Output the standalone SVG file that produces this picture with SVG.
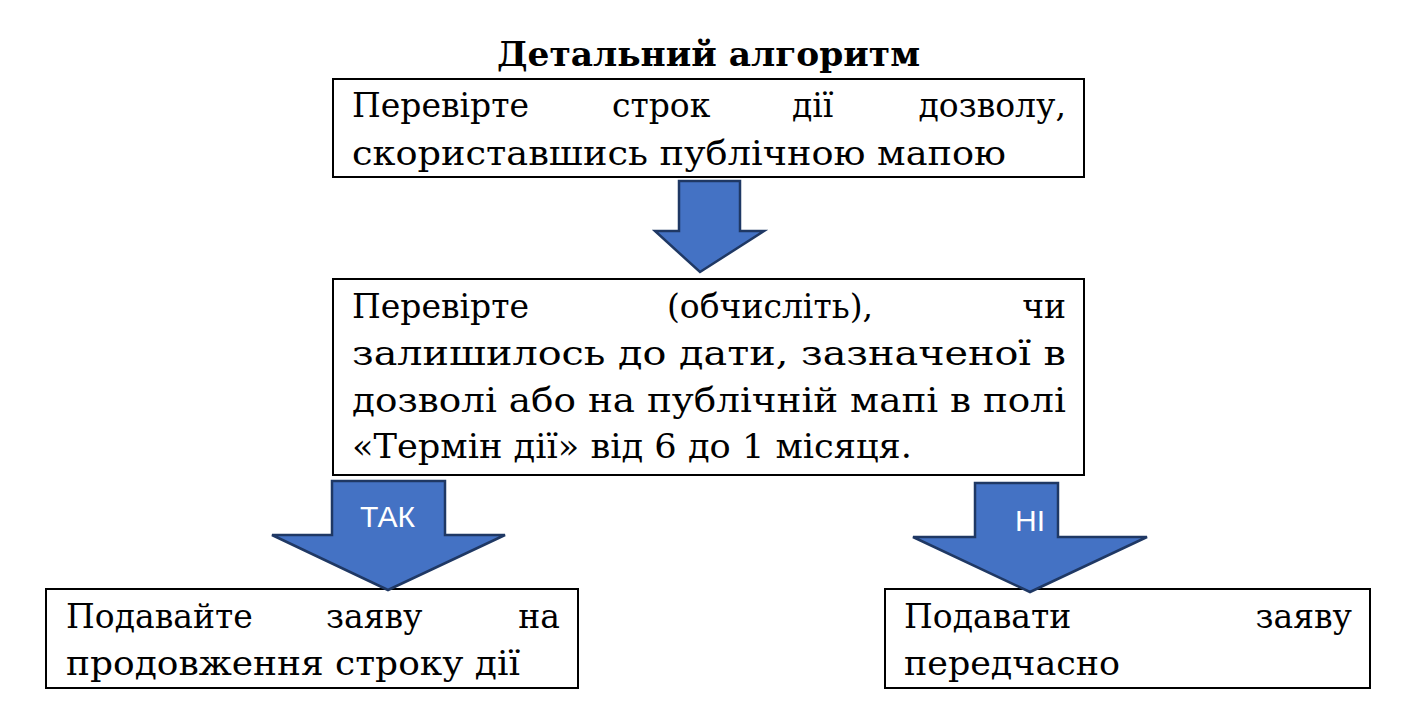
<svg xmlns="http://www.w3.org/2000/svg" width="1416" height="710" viewBox="0 0 1416 710">
<style>
.box{fill:#fff;stroke:#000;stroke-width:2}
.t{font-family:"DejaVu Serif","Liberation Serif",serif;font-size:33px;fill:#000}
.ttl{font-family:"DejaVu Serif","Liberation Serif",serif;font-size:34px;font-weight:bold;fill:#000}
.arr{fill:#4472C4;stroke:#1F3864;stroke-width:2.5}
.al{font-family:"Liberation Sans Narrow","Liberation Sans",sans-serif;font-size:30px;fill:#fff}
</style>
<rect width="1416" height="710" fill="#fff"/>
<text class="ttl" x="497" y="66" textLength="423" lengthAdjust="spacingAndGlyphs">Детальний алгоритм</text>
<g id="n1"><rect class="box" x="333" y="79" width="751" height="98"/>
<text class="t" y="117"><tspan x="352">Перевірте</tspan><tspan x="612">строк</tspan><tspan x="792">дії</tspan><tspan x="1066" text-anchor="end">дозволу,</tspan></text>
<text class="t" x="352" y="165" textLength="654" lengthAdjust="spacingAndGlyphs">скориставшись публічною мапою</text></g>
<g id="n2"><rect class="box" x="333" y="279" width="751" height="196"/>
<text class="t" y="318"><tspan x="352">Перевірте</tspan><tspan x="667">(обчисліть),</tspan><tspan x="1066" text-anchor="end">чи</tspan></text>
<text class="t" x="352" y="365" textLength="714" lengthAdjust="spacingAndGlyphs">залишилось до дати, зазначеної в</text>
<text class="t" x="352" y="412" textLength="714" lengthAdjust="spacingAndGlyphs">дозволі або на публічній мапі в полі</text>
<text class="t" x="352" y="458" textLength="560" lengthAdjust="spacingAndGlyphs">«Термін дії» від 6 до 1 місяця.</text></g>
<g id="n3"><rect class="box" x="46" y="589" width="532" height="99"/>
<text class="t" y="628"><tspan x="66">Подавайте</tspan><tspan x="326">заяву</tspan><tspan x="560" text-anchor="end">на</tspan></text>
<text class="t" x="66" y="675" textLength="454" lengthAdjust="spacingAndGlyphs">продовження строку дії</text></g>
<g id="n4"><rect class="box" x="885" y="589" width="485" height="99"/>
<text class="t" y="628"><tspan x="904">Подавати</tspan><tspan x="1352" text-anchor="end">заяву</tspan></text>
<text class="t" x="904" y="675" textLength="216" lengthAdjust="spacingAndGlyphs">передчасно</text></g>
<g id="connectors">
<polygon class="arr" points="679,181 740,181 740,231 764,231 700,272 655,231 679,231"/>
<polygon class="arr" points="332,481 445,481 445,535 505,535 388,590 272,535 332,535"/>
<text class="al" x="360" y="527" textLength="55" lengthAdjust="spacingAndGlyphs">ТАК</text>
<polygon class="arr" points="975,483 1058,483 1058,537 1147,537 1030,592 913,537 975,537"/>
<text class="al" x="1030" y="531" text-anchor="middle">НІ</text>
</g>
</svg>
